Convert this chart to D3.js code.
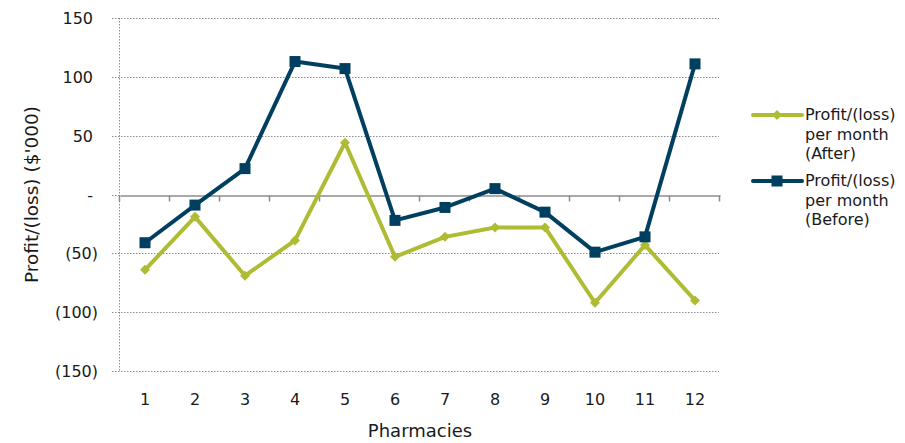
<!DOCTYPE html>
<html>
<head>
<meta charset="utf-8">
<script src="https://cdn.jsdelivr.net/npm/d3@7"></script>
<style>
  body { margin: 0; background: #fff; }
  svg text { font-family: "DejaVu Sans", sans-serif; fill: #1a1a1a; }
</style>
</head>
<body>
<div id="chart"></div>
<script>
// pharmacies 1..12, profit/(loss) in $'000
const pharmacies = [1, 2, 3, 4, 5, 6, 7, 8, 9, 10, 11, 12];
const after  = [-64, -19, -69, -39, 44, -53, -36, -28, -28, -92, -43, -90];
const before = [-41, -9, 22, 113, 107, -22, -11, 5, -15, -49, -36, 111];
const yTicks = [150, 100, 50, 0, -50, -100, -150];

const seriesList = [
    { name: ['Profit/(loss)', 'per month', '(After)'], values: after, color: '#afbc33', marker: 'diamond' },
    { name: ['Profit/(loss)', 'per month', '(Before)'], values: before, color: '#003f5f', marker: 'square' }
];

const width = 905, height = 443;
const plot = { left: 120, right: 720, top: 18, bottom: 371 };

const svg = d3.select('#chart').append('svg')
    .attr('width', width)
    .attr('height', height);

const x = d3.scaleBand()
    .domain(pharmacies)
    .range([plot.left, plot.right]);

const y = d3.scaleLinear()
    .domain([-150, 150])
    .range([plot.bottom, plot.top]);

const fmt = v => v === 0 ? '-' : v < 0 ? '(' + Math.abs(v) + ')' : String(v);

// dotted gridlines
svg.append('g')
    .selectAll('line')
    .data(yTicks.filter(d => d !== 0))
    .enter().append('line')
    .attr('x1', plot.left - 8)
    .attr('x2', plot.right - 1)
    .attr('y1', d => Math.round(y(d)) + 0.5)
    .attr('y2', d => Math.round(y(d)) + 0.5)
    .attr('stroke', '#8c8c8c')
    .attr('stroke-width', 1)
    .attr('stroke-dasharray', '1.5,1.5');

// left dotted axis
svg.append('line')
    .attr('x1', plot.left - 0.5).attr('x2', plot.left - 0.5)
    .attr('y1', y(150)).attr('y2', y(-150))
    .attr('stroke', '#8c8c8c')
    .attr('stroke-dasharray', '1.5,1.5');

// small dotted tick at zero on the left
svg.append('line')
    .attr('x1', plot.left - 8).attr('x2', plot.left)
    .attr('y1', Math.round(y(0)) + 0.5).attr('y2', Math.round(y(0)) + 0.5)
    .attr('stroke', '#8c8c8c')
    .attr('stroke-dasharray', '1.5,1.5');

// y tick labels (accounting style: positives leave room for ")")
svg.append('g')
    .selectAll('text')
    .data(yTicks)
    .enter().append('text')
    .attr('x', d => d < 0 ? 98 : 93)
    .attr('y', d => y(d) + 6)
    .attr('text-anchor', 'end')
    .style('font-size', '16px')
    .text(fmt);

// x axis on zero line
const xAxis = d3.axisBottom(x).tickSize(0).tickFormat('');
const gx = svg.append('g')
    .attr('transform', `translate(0,${Math.round(y(0)) + 0.5})`)
    .call(xAxis);
gx.select('.domain').attr('stroke', '#8c8c8c').attr('stroke-width', 1.5);
gx.selectAll('.tick').remove();

const boundaries = pharmacies.map(p => x(p)).concat([x(12) + x.bandwidth()]);
gx.selectAll('line.sep')
    .data(boundaries)
    .enter().append('line')
    .attr('class', 'sep')
    .attr('x1', d => Math.round(d) - 0.5)
    .attr('x2', d => Math.round(d) - 0.5)
    .attr('y1', 0)
    .attr('y2', 6)
    .attr('stroke', '#8c8c8c')
    .attr('stroke-width', 1.5);

// category labels at the bottom
svg.append('g')
    .selectAll('text')
    .data(pharmacies)
    .enter().append('text')
    .attr('x', d => x(d) + x.bandwidth() / 2)
    .attr('y', 405)
    .attr('text-anchor', 'middle')
    .style('font-size', '16px')
    .text(d => d);

// axis titles
svg.append('text')
    .attr('x', 420)
    .attr('y', 437)
    .attr('text-anchor', 'middle')
    .style('font-size', '18px')
    .text('Pharmacies');

svg.append('text')
    .attr('transform', `translate(38,${y(0)}) rotate(-90)`)
    .attr('text-anchor', 'middle')
    .style('font-size', '18.5px')
    .text("Profit/(loss) ($'000)");

// series
const line = d3.line()
    .x((d, i) => x(pharmacies[i]) + x.bandwidth() / 2)
    .y(d => y(d));

function drawMarker(g, s, cx, cy) {
    if (s.marker === 'square') {
        g.append('rect')
            .attr('x', cx - 5.5).attr('y', cy - 5.5)
            .attr('width', 11).attr('height', 11)
            .attr('fill', s.color);
    } else {
        g.append('path')
            .attr('d', `M${cx},${cy - 5}L${cx + 5},${cy}L${cx},${cy + 5}L${cx - 5},${cy}Z`)
            .attr('fill', s.color);
    }
}

for (let s of seriesList) {
    const g = svg.append('g');
    g.append('path')
        .datum(s.values)
        .attr('d', line)
        .attr('fill', 'none')
        .attr('stroke', s.color)
        .attr('stroke-width', 4)
        .attr('stroke-linejoin', 'round');
    s.values.forEach((v, i) => drawMarker(g, s, x(pharmacies[i]) + x.bandwidth() / 2, y(v)));
}

// legend
seriesList.forEach((s, i) => {
    const ly = 115 + i * 66;
    const g = svg.append('g');
    g.append('line')
        .attr('x1', 753).attr('x2', 802)
        .attr('y1', ly).attr('y2', ly)
        .attr('stroke', s.color)
        .attr('stroke-width', 4)
        .attr('stroke-linecap', 'round');
    drawMarker(g, s, 777, ly);
    s.name.forEach((t, j) => {
        g.append('text')
            .attr('x', 805)
            .attr('y', ly + 5 + j * 19.5)
            .style('font-size', '16px')
            .text(t);
    });
});
</script>
</body>
</html>
